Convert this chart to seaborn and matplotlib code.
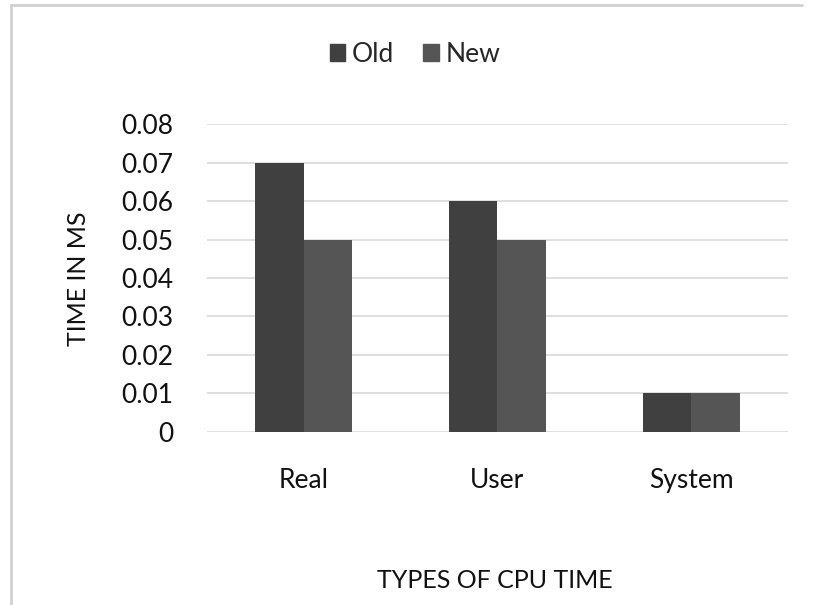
import pandas as pd
import matplotlib.pyplot as plt
import seaborn as sns
from matplotlib.patches import Rectangle
from matplotlib.lines import Line2D

categories = ["Real", "User", "System"]
old_times = [0.07, 0.06, 0.01]
new_times = [0.05, 0.05, 0.01]
series = ["Old", "New"]
y_ticks = [0, 0.01, 0.02, 0.03, 0.04, 0.05, 0.06, 0.07, 0.08]
y_tick_labels = ["0", "0.01", "0.02", "0.03", "0.04", "0.05", "0.06", "0.07", "0.08"]

df = pd.DataFrame({
    "type": categories * 2,
    "series": ["Old"] * len(categories) + ["New"] * len(categories),
    "time": old_times + new_times,
})

sns.set_theme(style="white")
plt.rcParams['font.family'] = ['Lato', 'DejaVu Sans']

fig = plt.figure(figsize=(8.14, 6.05), dpi=100)
ax = fig.add_axes([0.254, 0.286, 0.714, 0.509])

palette = {"Old": "#404040", "New": "#555555"}
sns.barplot(data=df, x="type", y="time", hue="series", order=categories,
            hue_order=series, palette=palette, width=0.5, saturation=1,
            edgecolor="none", linewidth=0, ax=ax, legend=False, zorder=3)

ax.set_xlim(-0.5, 2.5)
ax.set_ylim(0, 0.08)
ax.set_yticks(y_ticks)
ax.set_yticklabels(y_tick_labels)
for y in y_ticks:
    ax.axhline(y, color="#d9d9d9", lw=1.2, zorder=1)
for s in ax.spines.values():
    s.set_visible(False)
ax.tick_params(axis="y", labelsize=19, pad=24, length=0, colors="#111111")
ax.tick_params(axis="x", labelsize=19, pad=26, length=0, colors="#111111")
ax.set_xlabel("")
ax.set_ylabel("")

fig.text(0.096, 0.54, "TIME IN MS", rotation=90, ha="center", va="center",
         fontsize=18, color="#111111")
fig.text(0.608, 0.041, "TYPES OF CPU TIME", ha="center", va="center",
         fontsize=18, color="#111111")

handles = [Rectangle((0, 0), 1, 1, color=palette[s]) for s in series]
fig.legend(handles, series, loc="center", bbox_to_anchor=(0.51, 0.91), ncol=2,
           frameon=False, fontsize=19, handlelength=0.6, handleheight=0.6,
           handletextpad=0.25, columnspacing=1.1)

# light chart-area border (left and top)
fig.add_artist(Line2D([0.0135, 0.0135], [0, 0.992], transform=fig.transFigure,
                      color="#d0d0d0", lw=2))
fig.add_artist(Line2D([0.0135, 0.985], [0.992, 0.992], transform=fig.transFigure,
                      color="#d0d0d0", lw=2))

fig.savefig("out.png", dpi=100)
